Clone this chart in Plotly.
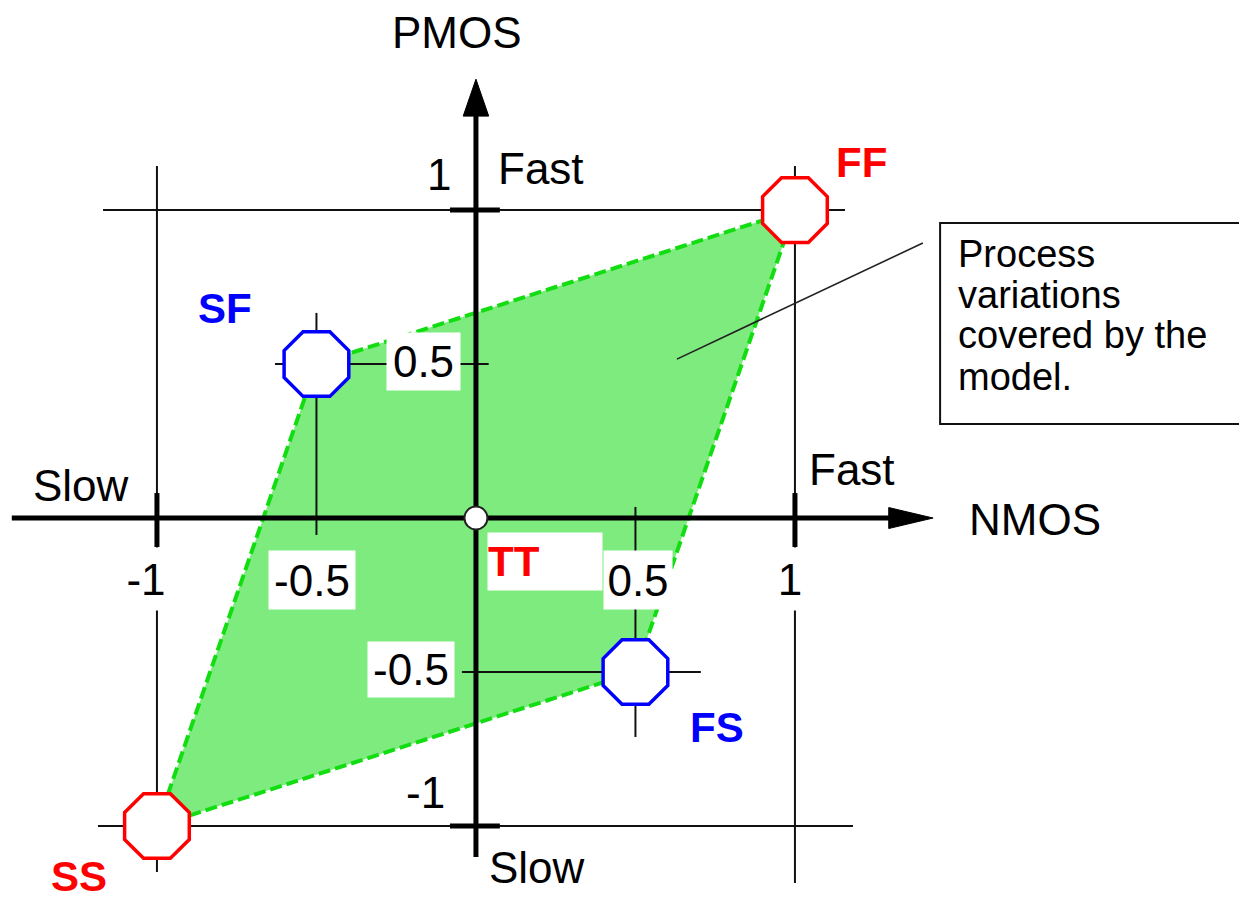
import plotly.graph_objects as go

# ---------------- data ----------------
corner_names = ["SS", "FS", "FF", "SF"]
corner_nmos = [-1.0, 0.5, 1.0, -0.5]
corner_pmos = [-1.0, -0.5, 1.0, 0.5]
corner_colors = ["#ff0000", "#0000ff", "#ff0000", "#0000ff"]

typical_name = "TT"
typical_nmos = [0.0]
typical_pmos = [0.0]

x_tick_vals = [-1.0, -0.5, 0.5, 1.0]
x_tick_text = ["-1", "-0.5", "0.5", "1"]
y_tick_vals = [1.0, 0.5, -0.5, -1.0]
y_tick_text = ["1", "0.5", "-0.5", "-1"]

axis_names = ["NMOS", "PMOS"]
speed_words = ["Slow", "Fast"]
note_lines = ["Process", "variations", "covered by the", "model."]

# ---------------- layout constants ----------------
X_RANGE = [-1.492, 2.392]
Y_RANGE = [-1.25, 1.682]
FONT = "Liberation Sans, Arial, sans-serif"
FS_MAIN = 44
FS_BOLD = 42
FS_NOTE = 38

fig = go.Figure()

# covered region (polygon through the four corners)
fig.add_trace(go.Scatter(
    x=corner_nmos + [corner_nmos[0]], y=corner_pmos + [corner_pmos[0]],
    mode="lines", fill="toself", fillcolor="#7eeb7e",
    line=dict(color="#11dd11", width=4, dash="12px,5px"),
    hoverinfo="skip"))

# thin guide lines: box through the corners and cross-hairs at SF / FS
thin_x, thin_y = [], []
def seg(xs, ys, a, b):
    xs += [a[0], b[0], None]
    ys += [a[1], b[1], None]

ff = (corner_nmos[2], corner_pmos[2])
ss = (corner_nmos[0], corner_pmos[0])
sf = (corner_nmos[3], corner_pmos[3])
fsc = (corner_nmos[1], corner_pmos[1])
seg(thin_x, thin_y, (-1.169, ff[1]), (1.157, ff[1]))
seg(thin_x, thin_y, (-1.185, ss[1]), (1.182, ss[1]))
seg(thin_x, thin_y, (ss[0], 1.143), (ss[0], -1.149))
seg(thin_x, thin_y, (ff[0], 1.143), (ff[0], -1.185))
seg(thin_x, thin_y, (sf[0], sf[1] + 0.166), (sf[0], -0.055))
seg(thin_x, thin_y, (sf[0] - 0.13, sf[1]), (0.04, sf[1]))
seg(thin_x, thin_y, (fsc[0], 0.036), (fsc[0], fsc[1] - 0.211))
seg(thin_x, thin_y, (-0.044, fsc[1]), (fsc[0] + 0.205, fsc[1]))
fig.add_trace(go.Scatter(x=thin_x, y=thin_y, mode="lines",
                         line=dict(color="#111111", width=2), hoverinfo="skip"))

# thick main axes and unit ticks
X_AX_START, X_AX_BASE, X_AX_TIP, X_HEAD_HALF = -1.455, 1.304, 1.433, 0.034
Y_AX_START, Y_AX_BASE, Y_AX_TIP, Y_HEAD_HALF = -1.101, 1.315, 1.425, 0.040
thick_x, thick_y = [], []
seg(thick_x, thick_y, (X_AX_START, 0), (X_AX_BASE, 0))
seg(thick_x, thick_y, (0, Y_AX_START), (0, Y_AX_BASE))
for v in (x_tick_vals[0], x_tick_vals[-1]):
    seg(thick_x, thick_y, (v, 0.081), (v, -0.094))
for v in (y_tick_vals[0], y_tick_vals[-1]):
    seg(thick_x, thick_y, (-0.0815, v), (0.075, v))
fig.add_trace(go.Scatter(x=thick_x, y=thick_y, mode="lines",
                         line=dict(color="#000000", width=5), hoverinfo="skip"))

# arrow heads
fig.add_trace(go.Scatter(
    x=[X_AX_BASE - 0.01, X_AX_TIP, X_AX_BASE - 0.01, X_AX_BASE - 0.01, None,
       -Y_HEAD_HALF, 0, Y_HEAD_HALF, -Y_HEAD_HALF],
    y=[X_HEAD_HALF, 0, -X_HEAD_HALF, X_HEAD_HALF, None,
       Y_AX_BASE - 0.01, Y_AX_TIP, Y_AX_BASE - 0.01, Y_AX_BASE - 0.01],
    mode="lines", fill="toself", fillcolor="#000000",
    line=dict(color="#000000", width=1), hoverinfo="skip"))

# leader line to the note box
fig.add_trace(go.Scatter(x=[0.630, 1.401], y=[0.516, 0.893], mode="lines",
                         line=dict(color="#222222", width=1.6), hoverinfo="skip"))

# corner markers
fig.add_trace(go.Scatter(
    x=corner_nmos, y=corner_pmos, mode="markers",
    marker=dict(symbol="octagon", size=70, color="white",
                line=dict(color=corner_colors, width=3.5)),
    hovertext=corner_names, hoverinfo="text"))

# typical marker
fig.add_trace(go.Scatter(
    x=typical_nmos, y=typical_pmos, mode="markers",
    marker=dict(symbol="circle", size=23, color="white",
                line=dict(color="#222222", width=2)),
    hovertext=[typical_name], hoverinfo="text"))

ann = []
def txt(x, y, t, size=FS_MAIN, color="black", bold=False, bg=None, w=None, h=None,
        xanchor="center", align="center", yanchor="middle"):
    d = dict(x=x, y=y, xref="x", yref="y", text=("<b>%s</b>" % t) if bold else t,
             showarrow=False, xanchor=xanchor, yanchor=yanchor, align=align,
             font=dict(family=FONT, size=size, color=color))
    if bg:
        d.update(bgcolor=bg, borderpad=0)
    if w:
        d["width"] = w
    if h:
        d["height"] = h
    ann.append(d)

# axis titles
txt(1.752, -0.006, axis_names[0])
txt(-0.060, 1.575, axis_names[1])
# speed words
txt(-1.238, 0.107, speed_words[0])
txt(1.179, 0.156, speed_words[1])
txt(0.204, 1.136, speed_words[1])
txt(0.191, -1.136, speed_words[0])

# x tick labels
x_lab_pos = [(-1.034, -0.197), (-0.514, -0.201), (0.508, -0.201), (0.984, -0.198)]
x_lab_box = [(40, 62), (86, 58), (68, 58), (40, 62)]
for (px, py), (w, h), t in zip(x_lab_pos, x_lab_box, x_tick_text):
    txt(px, py, t, bg="white", w=w, h=h)

# y tick labels
y_lab_pos = [(-0.116, 1.114), (-0.165, 0.508), (-0.204, -0.492), (-0.157, -0.890)]
y_lab_box = [(None, None), (73, 57), (86, 55), (None, None)]
for (px, py), (w, h), t in zip(y_lab_pos, y_lab_box, y_tick_text):
    if w:
        txt(px, py, t, bg="white", w=w, h=h)
    else:
        txt(px, py, t)

# corner labels
corner_label_pos = [(-1.245, -1.246), (0.755, -0.679), (1.210, 1.153), (-0.787, 0.679)]
corner_label_anchor = ["bottom", "middle", "middle", "middle"]
for (px, py), name, col, ya in zip(corner_label_pos, corner_names, corner_colors,
                                   corner_label_anchor):
    txt(px, py, name, size=FS_BOLD, color=col, bold=True, yanchor=ya)

# TT label in its white box
txt(0.216, -0.141, typical_name, size=FS_BOLD, color="#ff0000", bold=True,
    bg="white", w=114, h=57, align="left")

# note box text
note_y = [0.857, 0.724, 0.594, 0.458]
for yy, line in zip(note_y, note_lines):
    txt(1.505, yy, line, size=FS_NOTE, xanchor="left", align="left")

fig.update_layout(
    width=1239, height=903,
    margin=dict(l=0, r=0, t=0, b=0),
    paper_bgcolor="white", plot_bgcolor="white",
    showlegend=False,
    xaxis=dict(range=X_RANGE, visible=False, fixedrange=True),
    yaxis=dict(range=Y_RANGE, visible=False, fixedrange=True),
    annotations=ann,
    shapes=[dict(type="rect", xref="x", yref="y", x0=1.455, x1=2.45, y0=0.305, y1=0.958,
                 line=dict(color="#111111", width=2), fillcolor="rgba(0,0,0,0)")],
)

fig.write_html(
    "out.html",
    config={"displayModeBar": False},
    post_script="document.body.style.margin='0';document.body.style.overflow='hidden';",
)
